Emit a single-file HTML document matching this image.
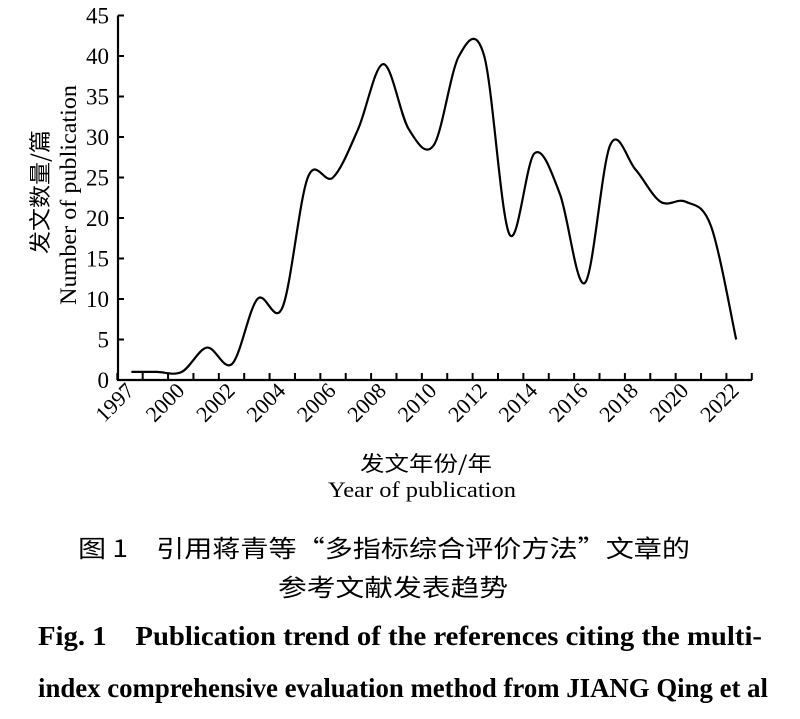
<!DOCTYPE html>
<html><head><meta charset="utf-8"><style>
html,body{margin:0;padding:0;background:#fff;}
svg{display:block;font-family:"Liberation Serif","Noto Serif CJK SC",serif;}
</style></head><body>
<svg id="chart" width="800" height="719" viewBox="0 0 800 719" xmlns="http://www.w3.org/2000/svg">
<g id="axes"></g>
<g id="plot"></g>
<text transform="translate(48,192) rotate(-90)" text-anchor="middle" font-size="22" font-family="Noto Sans CJK SC, sans-serif" textLength="124" lengthAdjust="spacingAndGlyphs">发文数量/篇</text>
<text transform="translate(76,195) rotate(-90)" text-anchor="middle" font-size="23" textLength="220" lengthAdjust="spacingAndGlyphs">Number of publication</text>
<text x="426" y="471" text-anchor="middle" font-size="21" font-family="Noto Sans CJK SC, sans-serif" textLength="132" lengthAdjust="spacingAndGlyphs">发文年份/年</text>
<text x="422" y="497" text-anchor="middle" font-size="22" textLength="188" lengthAdjust="spacingAndGlyphs">Year of publication</text>
<text x="384" y="557" text-anchor="middle" font-size="24" font-family="Noto Sans CJK SC, sans-serif" textLength="612" lengthAdjust="spacingAndGlyphs">图 1　引用蒋青等“多指标综合评价方法”文章的</text>
<text x="393" y="596" text-anchor="middle" font-size="24" font-family="Noto Sans CJK SC, sans-serif" textLength="230" lengthAdjust="spacingAndGlyphs">参考文献发表趋势</text>
<text x="38" y="645" font-size="27" font-weight="bold" textLength="724" lengthAdjust="spacingAndGlyphs">Fig. 1　Publication trend of the references citing the multi-</text>
<text x="38" y="697" font-size="27" font-weight="bold" textLength="730" lengthAdjust="spacingAndGlyphs">index comprehensive evaluation method from JIANG Qing et al</text>
</svg>
<script>
const years = [1998,1999,2000,2001,2002,2003,2004,2005,2006,2007,2008,2009,2010,2011,2012,2013,2014,2015,2016,2017,2018,2019,2020,2021,2022];
const counts = [1,1,1,4,2,10,9,25,25,31,39,31,29,40,40,18,28,23,12,29,26,22,22,19,5];
const yTicks = [0,5,10,15,20,25,30,35,40,45];
const xTickLabels = ["1997","2000","2002","2004","2006","2008","2010","2012","2014","2016","2018","2020","2022"];
const NS = "http://www.w3.org/2000/svg";
function xScale(yr){ return 207 + (yr - 2001) * 25.2; }
function yScale(v){ return 380 - v * 8.1; }
function mk(tag, attrs, parent){ const e=document.createElementNS(NS,tag); for(const k in attrs) e.setAttribute(k,attrs[k]); parent.appendChild(e); return e; }
const axes=document.getElementById('axes'), plot=document.getElementById('plot');
const yAxis = mk('path',{d:'M118 '+yScale(45)+' V380 H752',fill:'none',stroke:'#000','stroke-width':2.2},axes);


yTicks.forEach(t=>{
  const l=mk('line',{x1:118,x2:124,y1:yScale(t),y2:yScale(t),stroke:'#000','stroke-width':2},axes);
  
  
  const tx=mk('text',{x:109,y:yScale(t)+8,'text-anchor':'end','font-size':23},axes);
  
  
  tx.textContent=t;
});
for(let i=0;i<=25;i++){
  const x=117.3+i*25.38;
  const l=mk('line',{x1:x,x2:x,y1:380,y2:373,stroke:'#000','stroke-width':2},axes);
  
  
}
xTickLabels.forEach(s=>{
  const yr=+s;
  const x = yr===1997 ? xScale(1998) : xScale(yr);
  const tx=mk('text',{transform:'translate('+(x+4)+',392) rotate(-45)','text-anchor':'end','font-size':22},axes);
  
  
  tx.textContent=s;
});
const pts=years.map((y,i)=>[xScale(y),yScale(counts[i])]);
let d='M'+pts[0][0]+' '+pts[0][1];
for(let i=0;i<pts.length-1;i++){
  const p0=pts[Math.max(0,i-1)],p1=pts[i],p2=pts[i+1],p3=pts[Math.min(pts.length-1,i+2)];
  const c1=[p1[0]+(p2[0]-p0[0])/6,p1[1]+(p2[1]-p0[1])/6];
  const c2=[p2[0]-(p3[0]-p1[0])/6,p2[1]-(p3[1]-p1[1])/6];
  d+=' C'+c1[0]+' '+c1[1]+' '+c2[0]+' '+c2[1]+' '+p2[0]+' '+p2[1];
}
const line=mk('path',{d:d,fill:'none',stroke:'#000','stroke-width':2.2},plot);


</script>
</body></html>
